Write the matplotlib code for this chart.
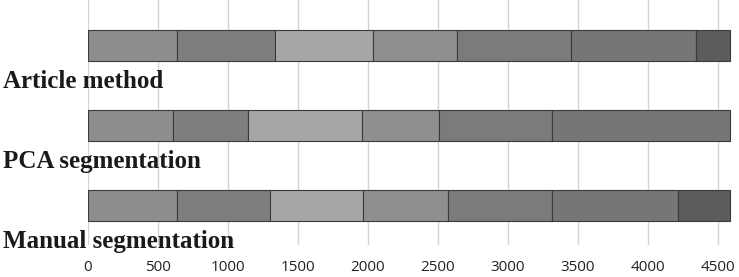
import matplotlib
matplotlib.use("Agg")
import matplotlib.pyplot as plt
import matplotlib.transforms as mtransforms

categories = ["Article method", "PCA segmentation", "Manual segmentation"]
# segment widths for each method (stacked)
article = [636, 700, 700, 600, 814, 893, 243]
pca = [607, 536, 814, 550, 807, 1272]
manual = [636, 664, 664, 607, 743, 900, 372]
series = [article, pca, manual]
xticks = [0, 500, 1000, 1500, 2000, 2500, 3000, 3500, 4000, 4500]

colors_article = ["#8d8d8d", "#7e7e7e", "#a6a6a6", "#8f8f8f", "#7b7b7b", "#767676", "#5c5c5c"]
colors_pca = ["#8d8d8d", "#7e7e7e", "#a6a6a6", "#8f8f8f", "#7b7b7b", "#767676"]
colors_manual = ["#8d8d8d", "#7e7e7e", "#a6a6a6", "#8f8f8f", "#7b7b7b", "#767676", "#5c5c5c"]
color_sets = [colors_article, colors_pca, colors_manual]

W, H = 739, 277
fig = plt.figure(figsize=(W / 100, H / 100), dpi=100)
ax = fig.add_axes([88 / W, (H - 245) / H, (W - 88) / W, 245 / H])

for i, (vals, cols) in enumerate(zip(series, color_sets)):
    left = 0
    for v, c in zip(vals, cols):
        ax.barh(i, v, left=left, height=31 / 80, color=c, edgecolor="#3a3a3a",
                linewidth=0.8, zorder=3)
        left += v

ax.set_xlim(0, 4650)
ax.set_ylim(2.5, -0.5625)
ax.set_xticks(xticks)
ax.set_xticklabels([str(t) for t in xticks], family="Open Sans", fontsize=11, color="#222222")
ax.set_yticks([])
ax.tick_params(axis="x", length=0, pad=11)
ax.grid(axis="x", color="#d4d4d4", linewidth=1.0, zorder=0)
for s in ax.spines.values():
    s.set_visible(False)

trans = mtransforms.blended_transform_factory(fig.transFigure, ax.transData)
for i, name in enumerate(categories):
    ax.text(3 / W, i + 0.46, name, transform=trans, ha="left", va="center",
            family="Liberation Serif", fontweight="bold", fontsize=18, color="#1a1a1a",
            zorder=5)

fig.savefig("out.png", dpi=100)
